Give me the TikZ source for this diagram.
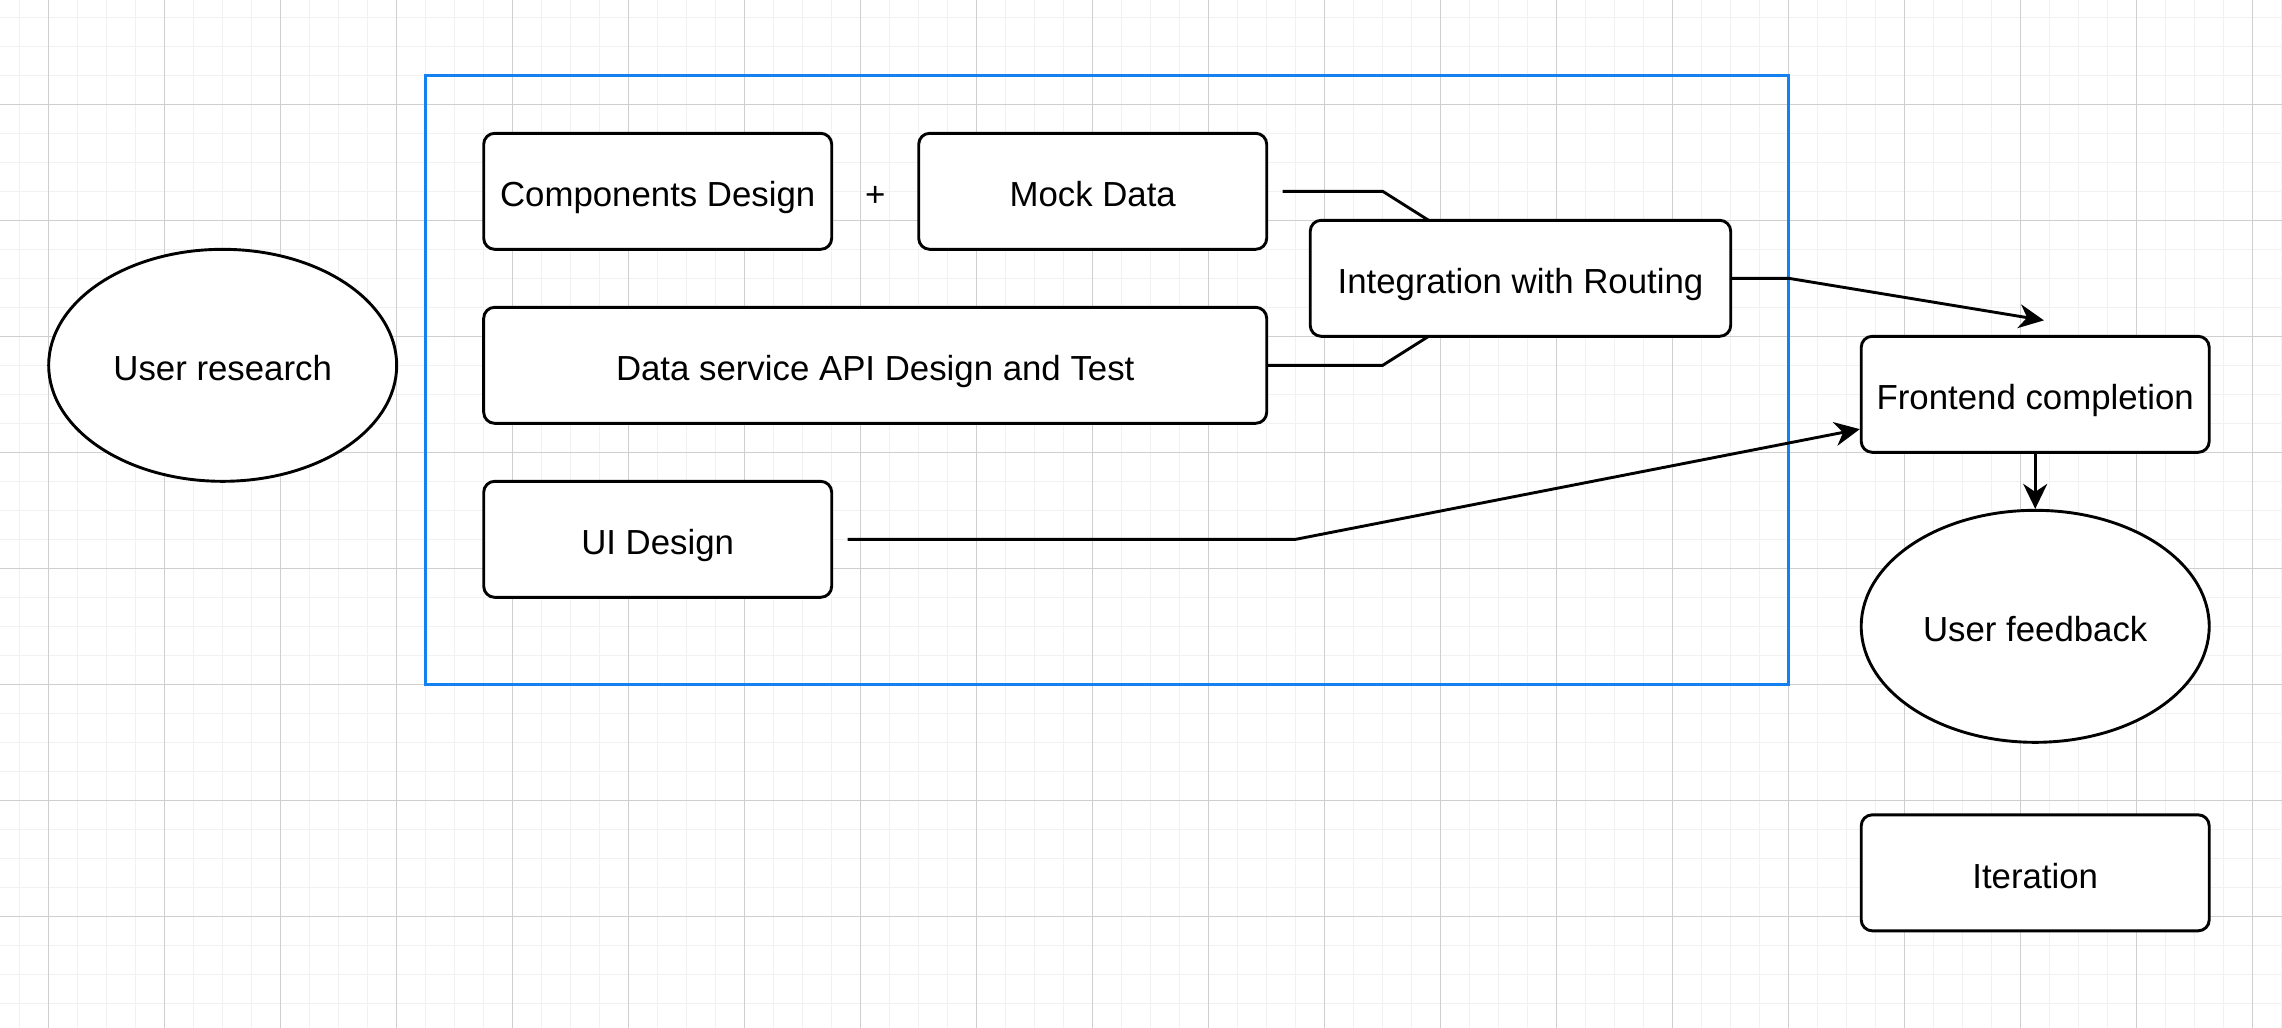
\documentclass[tikz,border=0pt]{standalone}
\usepackage{fontspec}
\setmainfont{Liberation Sans}
\usetikzlibrary{arrows.meta,shapes.geometric,calc}
\pgfdeclarelayer{gridlayer}
\pgfdeclarelayer{edgelayer}
\pgfsetlayers{gridlayer,edgelayer,main}
\definecolor{gridminor}{HTML}{F1F1F1}
\definecolor{gridmajor}{HTML}{CFCFCF}
\definecolor{selblue}{HTML}{1382F0}
\begin{document}
\begin{tikzpicture}[x=2.9pt,y=-2.9pt,
  font=\fontsize{34.8}{40}\selectfont,
  lbl/.style={text height=33pt, text depth=1.8pt},
  box/.style={lbl, draw=black, fill=white, line width=2.9pt, rounded corners=11pt, inner sep=0pt, minimum height=116pt},
  oval/.style={lbl, draw=black, fill=white, line width=2.9pt, ellipse, inner sep=0pt, minimum width=348pt, minimum height=232pt},
  conn/.style={draw=black, line width=2.9pt},
  arr/.style={conn, -{Stealth[length=25pt,width=24pt,inset=8pt]}},
  groupbox/.style={draw=selblue, line width=2.5pt, inner sep=0pt, minimum width=1363pt, minimum height=609pt}
]
\useasboundingbox (-16.79,-35.97) rectangle (770.1,318.5);

% nodes
\node[oval] (research) at (60,90) {User research};
\node[box, minimum width=348pt] (comp) at (210,30) {Components Design};
\node[lbl] (plus) at (285,30) {+};
\node[box, minimum width=348pt] (mock) at (360,30) {Mock Data};
\node[box, minimum width=420.5pt] (integ) at (507.5,60) {Integration with Routing};
\node[box, minimum width=783pt] (data) at (285,90) {Data service API Design and Test};
\node[box, minimum width=348pt] (ui) at (210,150) {UI Design};
\node[box, minimum width=348pt] (front) at (685,100) {Frontend completion};
\node[oval] (feedback) at (685,180) {User feedback};
\node[box, minimum width=348pt] (iter) at (685,265) {Iteration};

\coordinate (fronttop) at ($(front.north)+(3,-5)$);
\coordinate (frontleft) at ($(front.west)+(0,12)$);

\begin{pgfonlayer}{gridlayer}
  \fill[white] (-16.79,-35.97) rectangle (770.1,318.5);
  \foreach \i in {-10,0,...,770} \draw[gridminor, line width=1.5pt] (\i,-36) -- (\i,319);
  \foreach \j in {-30,-20,...,310} \draw[gridminor, line width=1.5pt] (-17,\j) -- (771,\j);
  \foreach \i in {0,40,...,760} \draw[gridmajor, line width=0.9pt] (\i,-36) -- (\i,319);
  \foreach \j in {0,40,...,280} \draw[gridmajor, line width=0.9pt] (-17,\j) -- (771,\j);
\end{pgfonlayer}

\begin{pgfonlayer}{edgelayer}
  \node[groupbox] (group) at (365,95) {};
  \draw[conn, shorten <=14.5pt] (mock.east) -- (460,30) -- (integ.center);
  \draw[conn] (data.east) -- (460,90) -- (integ.center);
  \draw[arr] (integ.east) -- (600,60) -- (fronttop);
  \draw[arr, shorten <=14.5pt] (ui.east) -- (430,150) -- (frontleft);
  \draw[arr] (front.south) -- (feedback.north);
\end{pgfonlayer}
\end{tikzpicture}
\end{document}
